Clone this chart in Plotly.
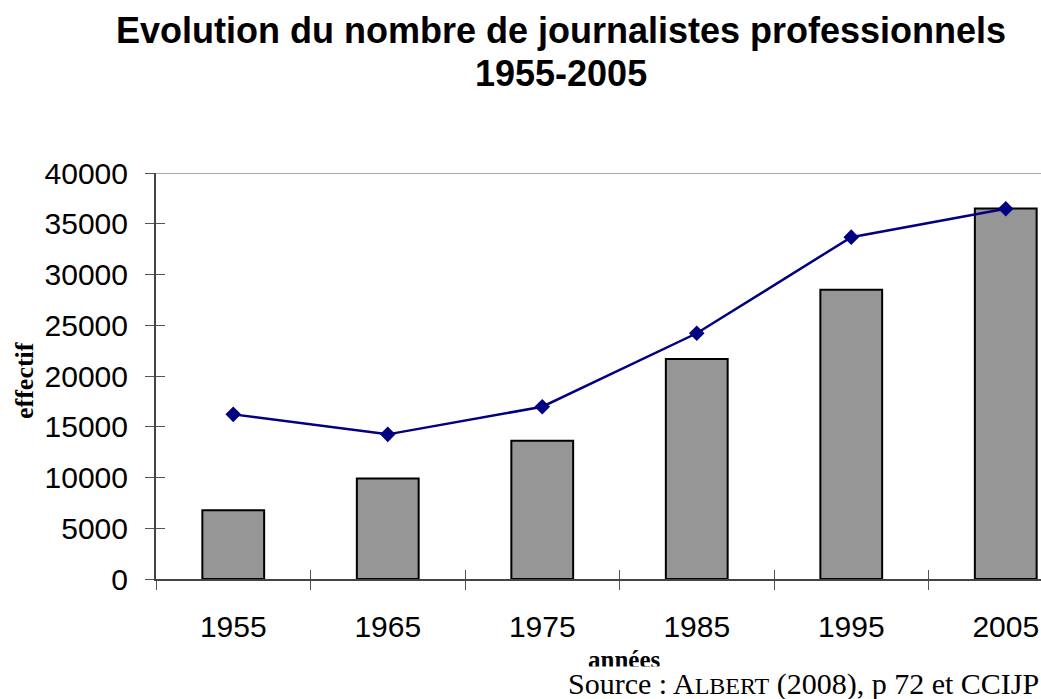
import plotly.graph_objects as go

years = ["1955", "1965", "1975", "1985", "1995", "2005"]
bar_values = [6780, 9900, 13620, 21680, 28500, 36500]
line_values = [16220, 14250, 16970, 24210, 33680, 36480]
y_ticks = [0, 5000, 10000, 15000, 20000, 25000, 30000, 35000, 40000]

W, H = 1041, 699
L, R, T, B = 156, 0, 173, 120
cat_w = 154.5
x_range = [-0.5, -0.5 + (W - L - R) / cat_w]
PW, PH = W - L - R, H - T - B


def px_y(py):
    return (579 - py) / PH


def px_x(pxv):
    return (pxv - L) / PW


fig = go.Figure()
fig.add_trace(go.Bar(
    x=years, y=bar_values, width=0.4,
    marker=dict(color="#969696", line=dict(color="black", width=2)),
    showlegend=False, hoverinfo="skip"))
fig.add_trace(go.Scatter(
    x=years, y=line_values, mode="lines+markers",
    line=dict(color="#000080", width=2.5),
    marker=dict(symbol="diamond", size=12, color="#000080"),
    showlegend=False, hoverinfo="skip"))

tickfont = dict(family="Liberation Sans, Arial", size=30, color="black")

fig.update_layout(
    width=W, height=H,
    margin=dict(l=L, r=R, t=T, b=B),
    paper_bgcolor="white", plot_bgcolor="white",
    xaxis=dict(type="category", range=x_range, tickson="boundaries",
               ticks="outside", ticklen=9, tickcolor="#555", tickwidth=1,
               showline=True, linecolor="#444", linewidth=2,
               showgrid=False, zeroline=False, tickfont=tickfont,
               ticklabelstandoff=20),
    yaxis=dict(range=[0, 40000], tickvals=y_ticks, tickformat="d",
               ticks="outside", ticklen=9,
               tickcolor="#555", tickwidth=1, showline=True, linecolor="#444",
               linewidth=2, showgrid=False, zeroline=False, tickfont=tickfont,
               ticklabelstandoff=11),
    xaxis2=dict(overlaying="x", anchor="y", range=x_range,
                tickvals=[i - 0.5 for i in range(len(years) + 1)],
                ticks="inside", ticklen=9, tickcolor="#555", tickwidth=1,
                showticklabels=False, showline=False, showgrid=False, zeroline=False),
    yaxis2=dict(overlaying="y", anchor="x", range=[0, 40000], tickvals=y_ticks,
                ticks="inside", ticklen=9, tickcolor="#555", tickwidth=1,
                showticklabels=False, showline=False, showgrid=False, zeroline=False),
)
# invisible helper so overlay axes are drawn
fig.add_trace(go.Scatter(x=[0], y=[0], xaxis="x2", yaxis="y2", mode="markers",
                         marker=dict(opacity=0), showlegend=False, hoverinfo="skip"))

fig.add_shape(type="line", xref="paper", yref="y", x0=0, x1=1, y0=40000, y1=40000,
              line=dict(color="#8a8a8a", width=1.5))

title_font = dict(family="Liberation Sans, Arial", size=36, color="black")
fig.add_annotation(xref="paper", yref="paper", x=px_x(561), y=px_y(30),
                   xanchor="center", yanchor="middle", showarrow=False,
                   text="<b>Evolution du nombre de journalistes professionnels</b>",
                   font=title_font)
fig.add_annotation(xref="paper", yref="paper", x=px_x(561), y=px_y(74),
                   xanchor="center", yanchor="middle", showarrow=False,
                   text="<b>1955-2005</b>", font=title_font)
fig.add_annotation(xref="paper", yref="paper", x=px_x(24), y=px_y(381),
                   textangle=-90, showarrow=False, xanchor="center", yanchor="middle",
                   text="<b>effectif</b>",
                   font=dict(family="Liberation Serif, Times New Roman", size=26, color="black"))
fig.add_annotation(xref="paper", yref="paper", x=px_x(624), y=px_y(659),
                   showarrow=False, xanchor="center", yanchor="middle",
                   text="<b>années</b>",
                   font=dict(family="Liberation Serif, Times New Roman", size=25, color="black"))
fig.add_annotation(xref="paper", yref="paper", x=px_x(1040), y=px_y(666),
                   showarrow=False, xanchor="right", yanchor="top", bgcolor="white",
                   borderpad=0,
                   text="Source : A<span style='font-size:24px'>LBERT</span> (2008), p 72 et CCIJP",
                   font=dict(family="Liberation Serif, Times New Roman", size=30, color="black"))

fig.write_html("out.html", config={"displayModeBar": False},
               post_script="document.body.style.margin='0';document.body.style.overflow='hidden';")
